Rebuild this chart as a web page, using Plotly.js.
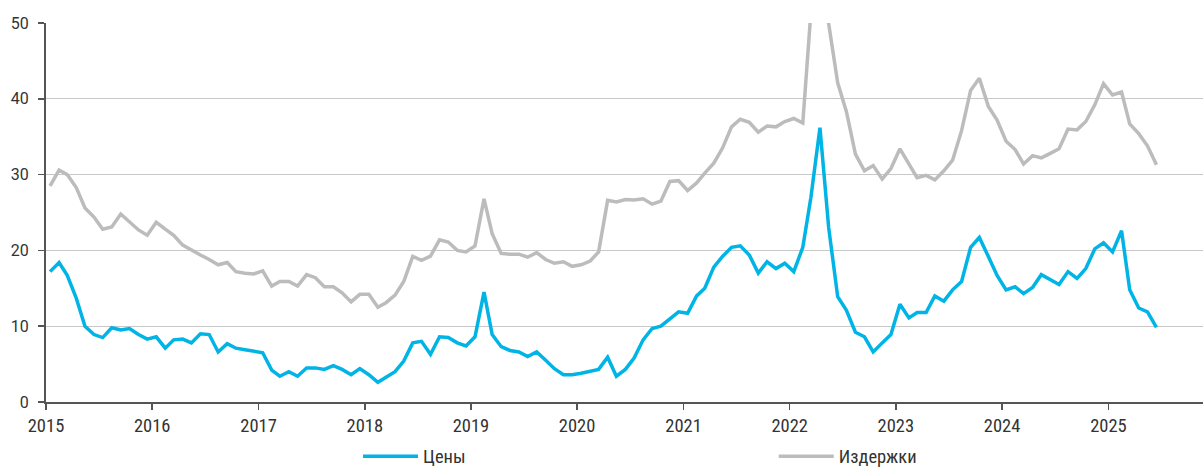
<!DOCTYPE html>
<html>
<head>
<meta charset="utf-8">
<script src="https://cdn.plot.ly/plotly-3.0.1.min.js"></script>
<style>
  html, body { margin: 0; padding: 0; background: #ffffff; }
  #chart { width: 1203px; height: 470px; }
</style>
</head>
<body>
<div id="chart"></div>
<script>
// Monthly series, January 2015 - June 2025
const startYear = 2015;
const seriesNames = ["Цены", "Издержки"];

const prices = [
  17.2, 18.4, 16.7, 13.7, 10.0, 8.9, 8.5, 9.8, 9.5, 9.7, 8.9, 8.3,
  8.6, 7.1, 8.2, 8.3, 7.8, 9.0, 8.9, 6.6, 7.7, 7.1, 6.9, 6.7,
  6.5, 4.2, 3.4, 4.0, 3.4, 4.5, 4.5, 4.3, 4.8, 4.3, 3.6, 4.4,
  3.6, 2.6, 3.3, 4.0, 5.4, 7.8, 8.0, 6.3, 8.6, 8.5, 7.8, 7.4,
  8.6, 14.5, 8.9, 7.3, 6.8, 6.6, 6.0, 6.6, 5.5, 4.4, 3.6, 3.6,
  3.8, 4.0, 4.3, 5.9, 3.4, 4.3, 5.8, 8.2, 9.7, 10.0, 11.0, 11.9,
  11.7, 14.0, 15.0, 17.8, 19.2, 20.4, 20.6, 19.4, 17.0, 18.5, 17.6, 18.3,
  17.2, 20.4, 27.0, 36.2, 23.0, 13.9, 12.1, 9.2, 8.6, 6.6, 7.8, 8.9,
  12.9, 11.1, 11.8, 11.8, 14.0, 13.3, 14.8, 15.9, 20.4, 21.7, 19.2, 16.7,
  14.8, 15.2, 14.3, 15.1, 16.8, 16.1, 15.5, 17.2, 16.3, 17.6, 20.2, 21.0,
  19.8, 22.6, 14.8, 12.4, 11.9, 9.85
];

const costs = [
  28.5, 30.6, 30.0, 28.3, 25.6, 24.4, 22.8, 23.1, 24.8, 23.8, 22.7, 22.0,
  23.7, 22.8, 22.0, 20.7, 20.0, 19.4, 18.8, 18.1, 18.4, 17.2, 17.0, 16.9,
  17.3, 15.3, 15.9, 15.9, 15.3, 16.8, 16.4, 15.2, 15.2, 14.4, 13.2, 14.2,
  14.2, 12.5, 13.1, 14.1, 15.9, 19.2, 18.7, 19.25, 21.4, 21.1, 20.0, 19.8,
  20.6, 26.8, 22.2, 19.6, 19.5, 19.5, 19.1, 19.7, 18.8, 18.3, 18.5, 17.9,
  18.1, 18.6, 19.8, 26.6, 26.4, 26.7, 26.65, 26.8, 26.1, 26.5, 29.1, 29.2,
  27.9, 28.9, 30.2, 31.5, 33.5, 36.3, 37.3, 36.9, 35.6, 36.4, 36.3, 37.0,
  37.4, 36.8, 51.5, 58.0, 49.9, 42.1, 38.3, 32.7, 30.5, 31.2, 29.4, 30.8,
  33.4, 31.4, 29.6, 29.9, 29.3, 30.5, 31.9, 35.8, 41.1, 42.7, 39.0, 37.2,
  34.4, 33.3, 31.4, 32.5, 32.2, 32.8, 33.4, 36.0, 35.9, 37.0, 39.2, 42.0,
  40.5, 40.9, 36.7, 35.4, 33.8, 31.3
];

const yTicks = [0, 10, 20, 30, 40, 50];

// mid-month dates
const months = [];
for (let i = 0; i < prices.length; i++) {
  const y = startYear + Math.floor(i / 12);
  const m = (i % 12) + 1;
  months.push(y + "-" + String(m).padStart(2, "0") + "-15");
}

const FONT = "Roboto, 'Liberation Sans', Arial, sans-serif";
const NARROW = "'Liberation Sans Narrow', 'Arial Narrow', 'Roboto Condensed', 'DejaVu Sans Condensed', sans-serif";

const traces = [
  {
    x: months, y: prices, name: seriesNames[0], type: "scatter", mode: "lines",
    line: { color: "#00b4e6", width: 3.5 }, legend: "legend"
  },
  {
    x: months, y: costs, name: seriesNames[1], type: "scatter", mode: "lines",
    line: { color: "#bcbcbc", width: 3.5 }, legend: "legend2"
  }
];

const legendCommon = {
  orientation: "h",
  xanchor: "left",
  y: -0.094, yanchor: "top",
  itemwidth: 55,
  font: { family: NARROW, size: 18.5, color: "#333333" },
  bgcolor: "rgba(0,0,0,0)"
};

const layout = {
  width: 1203, height: 470,
  margin: { l: 46, r: 0, t: 23, b: 68, autoexpand: false },
  paper_bgcolor: "#ffffff", plot_bgcolor: "#ffffff",
  font: { family: FONT, size: 15, color: "#333333" },
  showlegend: true,
  legend: Object.assign({}, legendCommon, { x: 0.2697 }),
  legend2: Object.assign({}, legendCommon, { x: 0.629 }),
  xaxis: {
    type: "date",
    range: ["2015-01-01", "2025-11-22"],
    dtick: "M12", tick0: "2015-01-01", tickformat: "%Y",
    ticks: "outside", ticklen: 6, tickwidth: 1.5, tickcolor: "#555555",
    ticklabelstandoff: 0,
    showline: true, linecolor: "#555555", linewidth: 2,
    showgrid: false, zeroline: false,
    tickfont: { family: NARROW, size: 18.5, color: "#333333" }
  },
  yaxis: {
    range: [0, 50],
    tickvals: yTicks,
    ticks: "outside", ticklen: 6, tickwidth: 1.5, tickcolor: "#555555",
    ticklabelstandoff: 6,
    showline: true, linecolor: "#555555", linewidth: 2,
    showgrid: true, gridcolor: "#c8c8c8", gridwidth: 1,
    zeroline: false,
    tickfont: { family: FONT, size: 16, color: "#333333" }
  }
};

Plotly.newPlot("chart", traces, layout, { displayModeBar: false, staticPlot: true });
</script>
</body>
</html>
